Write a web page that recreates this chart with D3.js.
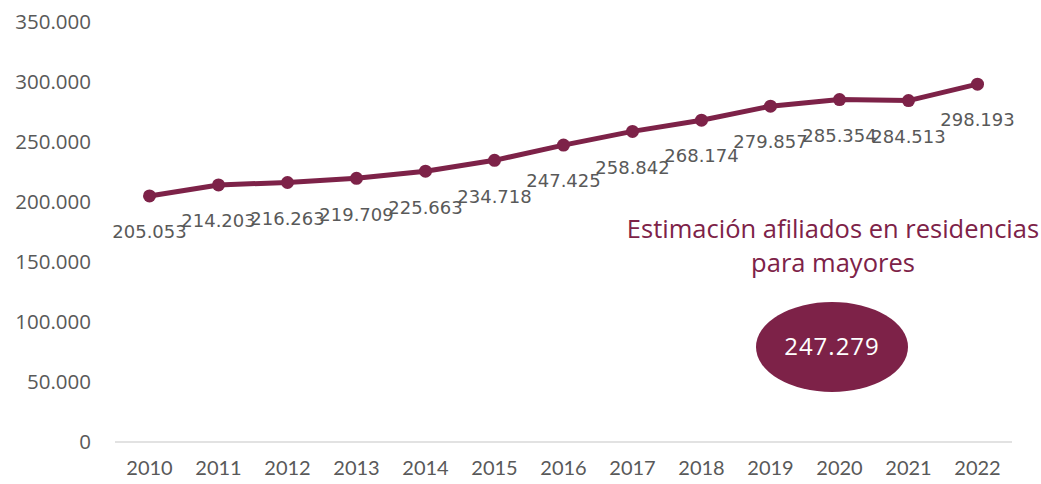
<!DOCTYPE html>
<html><head><meta charset="utf-8">
<script src="https://cdn.jsdelivr.net/npm/d3@7"></script>
<style>body{margin:0;background:#fff}svg{display:block}</style>
</head><body>
<svg id="c" width="1041" height="484"></svg>
<script>
const years = ["2010","2011","2012","2013","2014","2015","2016","2017","2018","2019","2020","2021","2022"];
const values = [205053,214203,216263,219709,225663,234718,247425,258842,268174,279857,285354,284513,298193];
const yTicks = [0,50000,100000,150000,200000,250000,300000,350000];
const titleLines = ["Estimación afiliados en residencias","para mayores"];
const estimate = 247279;

const color = "#7D2248";
const svg = d3.select("#c");
const fmt = v => d3.format(",")(v).replace(/,/g,".");

const x = d3.scaleBand().domain(years).range([115,1012]);
const y = d3.scaleLinear().domain([0,350000]).range([442,22]);

// y labels
svg.append("g").selectAll("text").data(yTicks).join("text")
  .attr("x",91).attr("y",d=>y(d)).attr("dy","0.35em").attr("text-anchor","end")
  .attr("font-family","Open Sans").attr("font-size",20.5).attr("fill","#595959")
  .text(d=>fmt(d));

// baseline
svg.append("line").attr("x1",115).attr("x2",1012).attr("y1",y(0)).attr("y2",y(0))
  .attr("stroke","#d9d9d9").attr("stroke-width",1.5);

// x labels
svg.append("g").selectAll("text").data(years).join("text")
  .attr("x",d=>x(d)+x.bandwidth()/2).attr("y",475).attr("text-anchor","middle")
  .attr("font-family","Lato").attr("font-size",20).attr("fill","#595959")
  .text(d=>d);

const cx = (d,i)=>x(years[i])+x.bandwidth()/2;
const line = d3.line().x((d,i)=>cx(d,i)).y(d=>y(d));
svg.append("path").datum(values).attr("d",line).attr("fill","none")
  .attr("stroke",color).attr("stroke-width",5).attr("stroke-linejoin","round");
svg.append("g").selectAll("circle").data(values).join("circle")
  .attr("cx",cx).attr("cy",d=>y(d)).attr("r",6.5).attr("fill",color);

// data labels
svg.append("g").selectAll("text").data(values).join("text")
  .attr("x",cx).attr("y",d=>y(d)+36).attr("dy","0.35em").attr("text-anchor","middle")
  .attr("font-family","DejaVu Sans").attr("font-size",18).attr("fill","#595959")
  .text(d=>fmt(d));

// title
svg.append("g").selectAll("text").data(titleLines).join("text")
  .attr("x",833).attr("y",(d,i)=>238+i*34).attr("text-anchor","middle")
  .attr("font-family","Open Sans").attr("font-size",25.5).attr("fill",color)
  .text(d=>d);

svg.append("ellipse").attr("cx",832).attr("cy",347).attr("rx",76).attr("ry",45).attr("fill",color);
svg.append("text").attr("x",832).attr("y",347).attr("dy","0.35em").attr("text-anchor","middle")
  .attr("font-family","Open Sans").attr("font-size",24).attr("fill","#fff")
  .attr("letter-spacing",1).text(fmt(estimate));
</script>
</body></html>
